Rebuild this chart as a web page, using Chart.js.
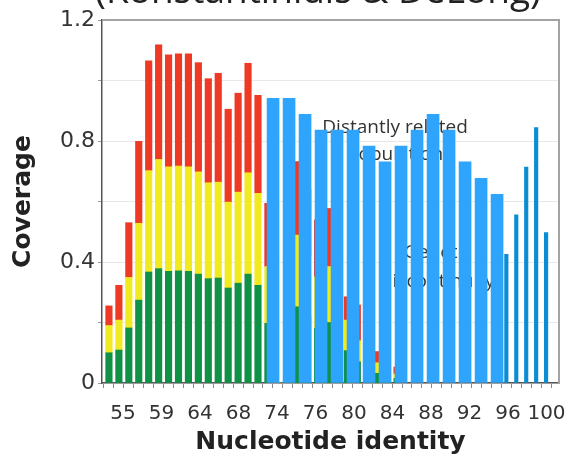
<!DOCTYPE html>
<html>
<head>
<meta charset="utf-8">
<script src="https://cdn.jsdelivr.net/npm/chart.js@4"></script>
<style>
  html, body { margin: 0; padding: 0; background: #fff; }
</style>
</head>
<body>
<canvas id="chart" width="566" height="457"></canvas>
<script>
// =============================
// DATA
// =============================
const xLabels = ['55', '59', '64', '68', '74', '76', '80', '84', '88', '92', '96', '100'];
const yLabelTicks = [0, 0.4, 0.8, 1.2];

// narrow stacked bars, one per slot (slot 0 = leftmost)
const greenVals  = [0.100, 0.109, 0.182, 0.274, 0.367, 0.378, 0.369, 0.371, 0.369, 0.360,
                    0.345, 0.347, 0.314, 0.330, 0.360, 0.323, 0.197, 0, 0.260, 0.252,
                    0.220, 0.181, 0.200, 0.150, 0.107, 0.070, 0.050, 0.032, 0.020, 0.015];
const yellowVals = [0.090, 0.099, 0.167, 0.254, 0.335, 0.361, 0.346, 0.346, 0.346, 0.338,
                    0.317, 0.317, 0.284, 0.301, 0.335, 0.304, 0.188, 0, 0.240, 0.237,
                    0.200, 0.170, 0.185, 0.130, 0.101, 0.070, 0.050, 0.035, 0.020, 0.015];
const redVals    = [0.065, 0.115, 0.181, 0.271, 0.363, 0.379, 0.370, 0.371, 0.373, 0.361,
                    0.344, 0.360, 0.307, 0.327, 0.362, 0.324, 0.209, 0, 0.250, 0.243,
                    0.220, 0.188, 0.192, 0.140, 0.077, 0.118, 0.060, 0.037, 0.030, 0.023];

// wide blue bars (drawn over the stacked ones)
const blueVals = [0.941, 0.941, 0.888, 0.836, 0.836, 0.836, 0.783, 0.731,
                  0.783, 0.836, 0.888, 0.836, 0.731, 0.677, 0.624];

// thin blue bars at the right end
const thinSlots = [40, 41, 42, 43, 44];
const thinVals  = [0.425, 0.556, 0.714, 0.844, 0.497];

// labels partly hidden under the bars
const notes = [
  { text: 'Distantly related', slot: 28.8, cov: 0.826 },
  { text: 'population',        slot: 28.8, cov: 0.737 },
  { text: 'Genetic',           slot: 33.1, cov: 0.413 },
  { text: 'discontinuity',     slot: 33.1, cov: 0.317 }
];

const headText = '(Konstantinidis & DeLong)';

// =============================
// HELPERS
// =============================
const toPts = (vals, slots) => vals.map((v, i) => ({ x: slots ? slots[i] : i, y: v }));

// keep the plot box where it is, labels may spill past the edges
const noSidePad = s => { s.paddingLeft = 0; s.paddingRight = 0; };

const notesPlugin = {
  id: 'notes',
  beforeDatasetsDraw(chart) {
    const { ctx, scales } = chart;
    ctx.save();
    ctx.font = '19px "Open Sans"';
    ctx.fillStyle = '#333';
    ctx.textAlign = 'center';
    ctx.textBaseline = 'alphabetic';
    notes.forEach(n => {
      ctx.fillText(n.text, scales.x.getPixelForValue(n.slot), scales.y.getPixelForValue(n.cov));
    });
    ctx.restore();
  },
  afterDraw(chart) {
    const { ctx, chartArea: a } = chart;
    ctx.save();
    // box on top / right
    ctx.strokeStyle = '#a3a3a3';
    ctx.lineWidth = 2;
    ctx.beginPath();
    ctx.moveTo(a.left, a.top);
    ctx.lineTo(a.right, a.top);
    ctx.lineTo(a.right, a.bottom);
    ctx.stroke();
    // cut-off heading above the plot
    ctx.font = '37px "Open Sans"';
    ctx.fillStyle = '#222';
    ctx.textAlign = 'center';
    ctx.textBaseline = 'alphabetic';
    ctx.fillText(headText, 318, 3);
    ctx.restore();
  }
};

// =============================
// CHART
// =============================
const xTickFont = { family: 'DejaVu Sans', size: 20 };
const yTickFont = { family: 'DejaVu Sans', size: 22 };
const titleFont = { family: 'DejaVu Sans', size: 25, weight: 'bold' };

new Chart(document.getElementById('chart'), {
  type: 'bar',
  data: {
    datasets: [
      { data: toPts(blueVals), xAxisID: 'xb', backgroundColor: '#2fa4fd', barThickness: 12 },
      { data: toPts(thinVals, thinSlots), xAxisID: 'x', backgroundColor: '#0b8dd4', barThickness: 3.5 },
      { data: toPts(greenVals), xAxisID: 'x', backgroundColor: '#0f9146', barThickness: 6.5 },
      { data: toPts(yellowVals), xAxisID: 'x', backgroundColor: '#f2ea20', barThickness: 6.5 },
      { data: toPts(redVals), xAxisID: 'x', backgroundColor: '#ee3a24', barThickness: 6.5 }
    ]
  },
  options: {
    responsive: false,
    animation: false,
    devicePixelRatio: 1,
    datasets: { bar: { grouped: false } },
    layout: { padding: { top: 20, right: 7, left: 0, bottom: 0 } },
    plugins: { legend: { display: false }, tooltip: { enabled: false } },
    scales: {
      x: {
        type: 'linear', position: 'bottom', weight: 0,
        min: -0.7, max: 45.3, offset: false, stacked: true,
        afterBuildTicks: s => {
          s.ticks = Array.from({ length: 46 }, (_, i) => ({ value: i - 0.5 }));
        },
        ticks: { display: false },
        grid: { offset: false, drawOnChartArea: false, drawTicks: true, tickLength: 5, tickColor: '#888' },
        border: { color: '#555', width: 1.5 },
        afterFit: s => { s.height = 5; noSidePad(s); }
      },
      xl: {
        type: 'linear', position: 'bottom', weight: 1,
        min: -0.545, max: 11.325, offset: false,
        afterBuildTicks: s => { s.ticks = xLabels.map((_, i) => ({ value: i })); },
        ticks: {
          callback: (v, i) => xLabels[i],
          font: xTickFont, color: '#333', padding: 6,
          autoSkip: false, maxRotation: 0
        },
        grid: { display: false },
        border: { display: false },
        title: { display: true, text: 'Nucleotide identity', font: titleFont, color: '#222', padding: 0 },
        afterFit: s => { s.height = 69; noSidePad(s); }
      },
      xb: {
        type: 'linear', position: 'bottom', weight: 2,
        min: -10.69, max: 17.87, offset: false, stacked: true,
        ticks: { display: false },
        grid: { display: false, offset: false },
        border: { display: false },
        afterFit: s => { s.height = 0; noSidePad(s); }
      },
      y: {
        min: 0, max: 1.2, stacked: true,
        ticks: {
          stepSize: 0.2,
          font: yTickFont, color: '#333', padding: 3,
          callback: v => {
            const hit = yLabelTicks.find(t => Math.abs(t - v) < 1e-6);
            if (hit === undefined) return '';
            return hit === 0 ? '0' : hit.toFixed(1);
          }
        },
        grid: { color: '#e8e8e8', tickColor: '#999', tickLength: 4 },
        border: { color: '#555', width: 1.5 },
        title: { display: true, text: 'Coverage', font: titleFont, color: '#222', padding: { top: 8, bottom: 0 } },
        afterFit: s => { s.width = 102; }
      }
    }
  },
  plugins: [notesPlugin]
});
</script>
</body>
</html>
